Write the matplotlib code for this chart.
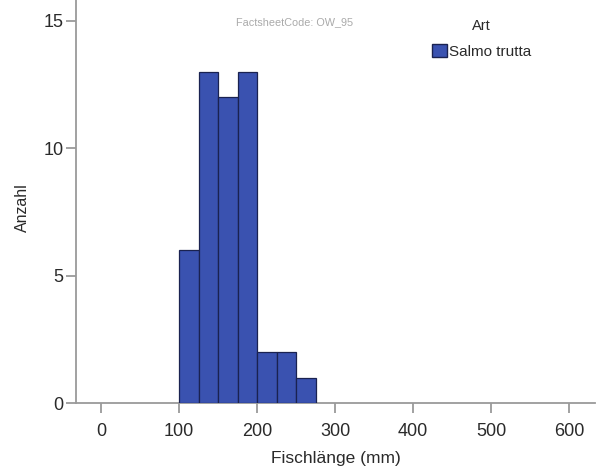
import matplotlib
matplotlib.use("Agg")
import matplotlib.pyplot as plt
from matplotlib.patches import Patch

plt.rcParams["font.family"] = ["Liberation Sans", "DejaVu Sans"]

bin_edges = [100, 125, 150, 175, 200, 225, 250, 275]
counts = [6, 13, 12, 13, 2, 2, 1]
x_ticks = [0, 100, 200, 300, 400, 500, 600]
y_ticks = [0, 5, 10, 15]
series_name = "Salmo trutta"

bar_color = "#3a52b0"
edge_color = "#1a2250"
axis_color = "#9a9a9a"
text_color = "#2a2a2a"

fig = plt.figure(figsize=(6.02, 4.70), dpi=100)
ax = fig.add_axes([76/602, 67/470, (595 - 76)/602, 403/470])

lefts = bin_edges[:-1]
widths = [b - a for a, b in zip(bin_edges[:-1], bin_edges[1:])]
ax.bar(lefts, counts, width=widths, align="edge", color=bar_color,
       edgecolor=edge_color, linewidth=0.9, zorder=3)

ax.set_xlim(-32.05, 633.3)
ax.set_ylim(0, 15.82)
ax.set_xticks(x_ticks)
ax.set_yticks(y_ticks)
for s in ["top", "right"]:
    ax.spines[s].set_visible(False)
for s in ["left", "bottom"]:
    ax.spines[s].set_color(axis_color)
    ax.spines[s].set_linewidth(1.3)
ax.tick_params(axis="both", colors=axis_color, length=7.5, width=1.3,
               labelcolor=text_color, labelsize=13)
ax.tick_params(axis="x", pad=7)
ax.tick_params(axis="y", pad=1.5)

ax.set_xlabel("Fischlänge (mm)", fontsize=12.5, color=text_color, labelpad=8)
ax.set_ylabel("Anzahl", fontsize=11.5, color=text_color)
ax.yaxis.set_label_coords(-46/519, (403 - 208)/403)

fig.text(295/602, 1 - 22/470, "FactsheetCode: OW_95", fontsize=7.8,
         color="#aaaaaa", ha="center", va="center")

leg = ax.legend(handles=[Patch(facecolor=bar_color, edgecolor=edge_color, label=series_name)],
                title="Art", loc="upper left", bbox_to_anchor=(432/602, 1 - 19/470),
                bbox_transform=fig.transFigure, frameon=False, fontsize=11,
                title_fontsize=10.5, handlelength=1.0, handleheight=0.9,
                handletextpad=0.1, borderaxespad=0, borderpad=0)
leg._legend_box.sep = 8
for t in leg.get_texts():
    t.set_color(text_color)
leg.get_title().set_color(text_color)

fig.savefig("out.png", dpi=100, facecolor="white")
